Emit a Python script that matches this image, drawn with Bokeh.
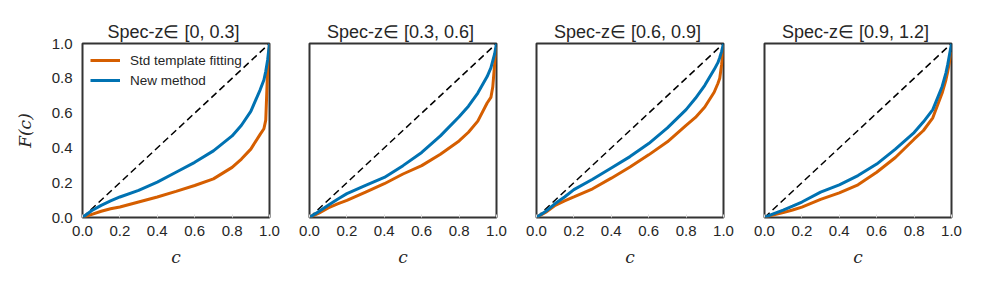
from bokeh.plotting import figure
from bokeh.layouts import row
from bokeh.models import Legend, LegendItem
from bokeh.embed import file_html
from bokeh.resources import INLINE

c_vals = [0, 0.05, 0.1, 0.15, 0.2, 0.3, 0.4, 0.5, 0.6, 0.7, 0.8, 0.85, 0.9, 0.95, 0.97, 0.98, 0.99, 1.0]

titles = ["Spec-z\u2208  [0, 0.3]", "Spec-z\u2208  [0.3, 0.6]", "Spec-z\u2208  [0.6, 0.9]", "Spec-z\u2208  [0.9, 1.2]"]

std_fit = [
    [0, 0.018, 0.036, 0.05, 0.06, 0.089, 0.118, 0.15, 0.184, 0.222, 0.288, 0.336, 0.393, 0.478, 0.51, 0.56, 0.85, 1.0],
    [0, 0.025, 0.055, 0.078, 0.099, 0.146, 0.194, 0.25, 0.298, 0.364, 0.44, 0.49, 0.554, 0.658, 0.69, 0.75, 0.88, 0.98],
    [0, 0.03, 0.07, 0.095, 0.118, 0.165, 0.226, 0.29, 0.36, 0.435, 0.53, 0.575, 0.635, 0.72, 0.77, 0.80, 0.88, 0.99],
    [0, 0.015, 0.028, 0.043, 0.06, 0.104, 0.142, 0.188, 0.26, 0.345, 0.45, 0.5, 0.573, 0.715, 0.79, 0.84, 0.9, 0.95],
]
new_method = [
    [0, 0.04, 0.07, 0.095, 0.118, 0.156, 0.203, 0.26, 0.317, 0.383, 0.469, 0.53, 0.61, 0.734, 0.79, 0.84, 0.905, 1.0],
    [0, 0.035, 0.07, 0.105, 0.137, 0.184, 0.23, 0.298, 0.374, 0.469, 0.579, 0.64, 0.715, 0.81, 0.86, 0.9, 0.94, 1.0],
    [0, 0.036, 0.08, 0.118, 0.16, 0.22, 0.285, 0.35, 0.425, 0.515, 0.62, 0.685, 0.76, 0.85, 0.89, 0.92, 0.955, 1.0],
    [0, 0.022, 0.042, 0.065, 0.089, 0.146, 0.188, 0.241, 0.307, 0.393, 0.488, 0.55, 0.62, 0.753, 0.83, 0.88, 0.94, 1.0],
]
diag = [0, 1]
ticks = [0.0, 0.2, 0.4, 0.6, 0.8, 1.0]
tick_labels = {0.0: "0.0", 0.2: "0.2", 0.4: "0.4", 0.6: "0.6", 0.8: "0.8", 1.0: "1.0"}

ORANGE = "#D55E00"
BLUE = "#0072B2"
TXT = "#262626"
SANS = "Liberation Sans"

borders = [(82, 20), (20, 20), (20, 21), (20, 20)]
figs = []
for i in range(4):
    bl, br = borders[i]
    p = figure(frame_width=187, frame_height=174, x_range=(0, 1), y_range=(0, 1),
               output_backend="svg", toolbar_location=None,
               min_border_left=bl, min_border_right=br, min_border_top=43, min_border_bottom=58)
    p.title.text = titles[i]
    p.title.align = "center"
    p.title.text_font = SANS
    p.title.text_font_size = "18px"
    p.title.text_font_style = "normal"
    p.title.text_color = TXT
    p.title.standoff = 4
    p.outline_line_color = "#333333"
    p.outline_line_width = 2
    p.xgrid.visible = False
    p.ygrid.visible = False

    p.line(diag, diag, line_color="black", line_width=1.5, line_dash="7 4")
    r_std = p.line(c_vals, std_fit[i], line_color=ORANGE, line_width=3)
    r_new = p.line(c_vals, new_method[i], line_color=BLUE, line_width=3)

    xa = p.xaxis[0]
    xa.ticker = ticks
    xa.major_label_overrides = tick_labels
    xa.major_label_text_font = SANS
    xa.major_label_text_font_size = "15px"
    xa.major_label_text_color = TXT
    xa.major_label_standoff = 8
    xa.major_tick_out = 0
    xa.major_tick_in = 3
    xa.major_tick_line_color = "#dddddd"
    xa.minor_tick_line_color = None
    xa.axis_line_color = None
    xa.axis_label = "c"
    xa.axis_label_text_font = "DejaVu Serif"
    xa.axis_label_text_font_style = "italic"
    xa.axis_label_text_font_size = "17px"
    xa.axis_label_text_color = TXT
    xa.axis_label_standoff = 8

    ya = p.yaxis[0]
    if i == 0:
        ya.ticker = ticks
        ya.major_label_overrides = tick_labels
        ya.major_label_text_font = SANS
        ya.major_label_text_font_size = "15px"
        ya.major_label_text_color = TXT
        ya.major_label_standoff = 10
        ya.major_tick_out = 0
        ya.major_tick_in = 0
        ya.minor_tick_line_color = None
        ya.axis_line_color = None
        ya.axis_label = "F(c)"
        ya.axis_label_text_font = "DejaVu Serif"
        ya.axis_label_text_font_style = "italic"
        ya.axis_label_text_font_size = "17px"
        ya.axis_label_text_color = TXT
        ya.axis_label_standoff = 14

        legend = Legend(items=[LegendItem(label="Std template fitting", renderers=[r_std]),
                               LegendItem(label="New method", renderers=[r_new])],
                        location="top_left", margin=0, padding=8,
                        background_fill_alpha=0, border_line_alpha=0,
                        label_text_font=SANS, label_text_font_size="13.5px",
                        label_text_color=TXT, glyph_width=30, glyph_height=18,
                        label_height=18, label_standoff=10, spacing=2)
        p.add_layout(legend)
    else:
        ya.visible = False
    figs.append(p)

layout = row(*figs)
open("out.html", "w").write(file_html(layout, INLINE))
